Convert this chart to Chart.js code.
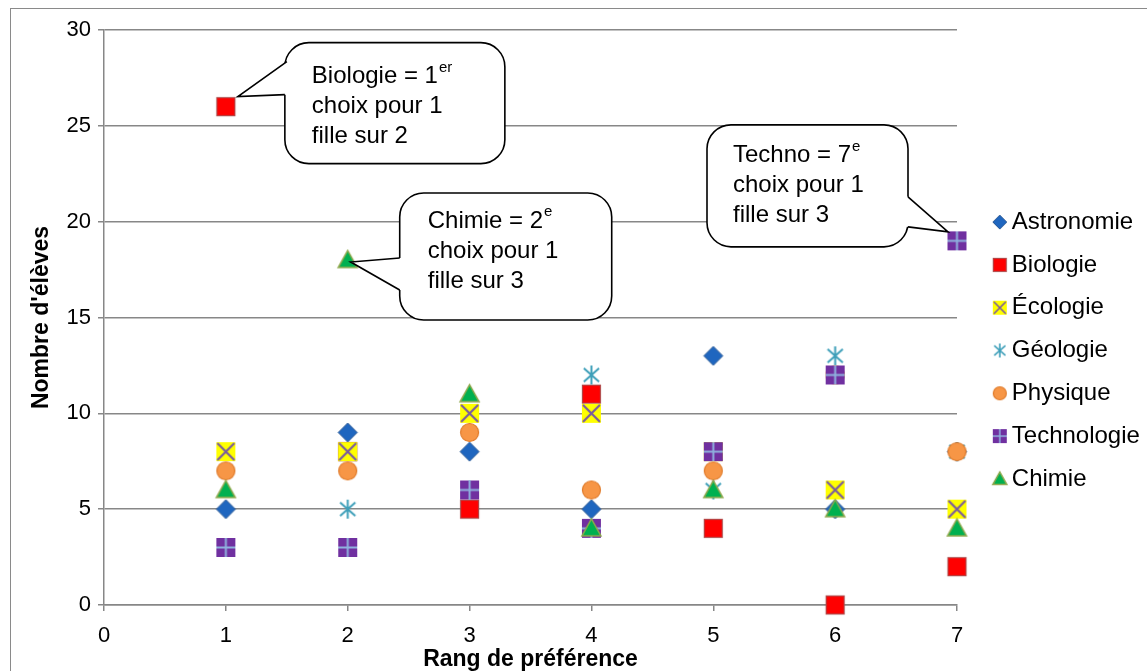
<!DOCTYPE html>
<html lang="fr">
<head>
<meta charset="utf-8">
<title>Rang de préférence des filles</title>
<script src="https://cdn.jsdelivr.net/npm/chart.js@4.4.0/dist/chart.umd.min.js"></script>
<style>
    html, body { margin: 0; padding: 0; background: #fff; overflow: hidden; }
    #cadre { position: absolute; left: 10px; top: 8px; width: 1200px; height: 700px; border: 1px solid #8a8a8a; }
    #zone { position: absolute; left: 0; top: 0; width: 1147px; height: 671px; }
</style>
</head>
<body>
<div id="cadre"></div>
<div id="zone"><canvas id="graphique"></canvas></div>
<script>
// Données (nombre d'élèves par rang de préférence)
const rangs = [1, 2, 3, 4, 5, 6, 7];
const astronomie = [5, 9, 8, 5, 13, 5, 8];
const biologie = [26, 8, 5, 11, 4, 0, 2];
const ecologie = [8, 8, 10, 10, 8, 6, 5];
const geologie = [3, 5, 6, 12, 6, 13, 8];
const physique = [7, 7, 9, 6, 7, 12, 8];
const technologie = [3, 3, 6, 4, 8, 12, 19];
const chimie = [6, 18, 11, 4, 6, 5, 4];
const matieres = ['Astronomie', 'Biologie', 'Écologie', 'Géologie', 'Physique', 'Technologie', 'Chimie'];
const formes = ['losange', 'carre', 'croix', 'etoile', 'rond', 'plus', 'triangle'];

const police = "'Liberation Sans', Arial, Helvetica, sans-serif";

// Bulles de commentaire, accrochées à un point (matière, rang)
const bulles = [
    { serie: 1, rang: 1, lignes: ['Biologie = 1', 'choix pour 1', 'fille sur 2'], exposant: 'er',
      boite: [59, -64, 220, 121], base: [[61, -45], [59, -12]], pointe: [12, -10], dedans: 4, texte: [27, 34] },
    { serie: 6, rang: 2, lignes: ['Chimie = 2', 'choix pour 1', 'fille sur 3'], exposant: 'e',
      boite: [52, -67, 212, 127], base: [[52, -2], [52, 30]], pointe: [3, 2], dedans: 4, texte: [28, 28] },
    { serie: 5, rang: 7, lignes: ['Techno = 7', 'choix pour 1', 'fille sur 3'], exposant: 'e',
      boite: [-250, -116, 201, 122], base: [[-49, -44], [-49, -14]], pointe: [-9, -9], dedans: -4, texte: [26, 31] }
];

// Dessin des marqueurs façon Excel
function marqueur(forme, taille, decalage) {
    const d = decalage || 0;
    const c = document.createElement('canvas');
    const cote = taille + 4;
    c.width = cote + 2 * Math.abs(d);
    c.height = cote;
    const g = c.getContext('2d');
    const cx = c.width / 2 + d, cy = c.height / 2, r = taille / 2;
    g.lineJoin = 'miter';
    switch (forme) {
        case 'losange':
            g.beginPath();
            g.moveTo(cx, cy - r); g.lineTo(cx + r, cy); g.lineTo(cx, cy + r); g.lineTo(cx - r, cy);
            g.closePath();
            g.fillStyle = '#1F66BF'; g.fill();
            g.strokeStyle = '#2C5A95'; g.lineWidth = 1; g.stroke();
            break;
        case 'carre':
            g.fillStyle = '#FF0000'; g.fillRect(cx - r, cy - r, taille, taille);
            g.strokeStyle = '#B04848'; g.lineWidth = 1.2; g.strokeRect(cx - r + 0.5, cy - r + 0.5, taille - 1, taille - 1);
            break;
        case 'croix':
            g.fillStyle = '#FFFF00'; g.fillRect(cx - r, cy - r, taille, taille);
            g.strokeStyle = '#7A5C9E'; g.lineWidth = taille > 15 ? 2.2 : 1.6;
            g.beginPath();
            g.moveTo(cx - r + 1, cy - r + 1); g.lineTo(cx + r - 1, cy + r - 1);
            g.moveTo(cx + r - 1, cy - r + 1); g.lineTo(cx - r + 1, cy + r - 1);
            g.stroke();
            break;
        case 'etoile':
            g.strokeStyle = '#3E9FB9'; g.lineWidth = taille > 15 ? 2 : 1.6;
            g.beginPath();
            g.moveTo(cx, cy - r); g.lineTo(cx, cy + r);
            g.moveTo(cx - r * 0.8, cy - r * 0.7); g.lineTo(cx + r * 0.8, cy + r * 0.7);
            g.moveTo(cx + r * 0.8, cy - r * 0.7); g.lineTo(cx - r * 0.8, cy + r * 0.7);
            g.stroke();
            break;
        case 'rond':
            g.beginPath(); g.arc(cx, cy, r - 0.5, 0, Math.PI * 2);
            g.fillStyle = '#F79646'; g.fill();
            g.strokeStyle = '#E07B2A'; g.lineWidth = 1.2; g.stroke();
            break;
        case 'plus':
            g.fillStyle = '#7030A0'; g.fillRect(cx - r, cy - r, taille, taille);
            g.strokeStyle = '#8FB1DE'; g.lineWidth = taille > 15 ? 2 : 1.5;
            g.beginPath();
            g.moveTo(cx, cy - r); g.lineTo(cx, cy + r);
            g.moveTo(cx - r, cy); g.lineTo(cx + r, cy);
            g.stroke();
            break;
        case 'triangle':
            g.beginPath();
            g.moveTo(cx, cy - r); g.lineTo(cx + r, cy + r * 0.8); g.lineTo(cx - r, cy + r * 0.8);
            g.closePath();
            g.fillStyle = '#00B050'; g.fill();
            g.strokeStyle = '#8EA84C'; g.lineWidth = 1.5; g.stroke();
            break;
    }
    return c;
}

const valeurs = [astronomie, biologie, ecologie, geologie, physique, technologie, chimie];
const imagesPoints = formes.map(f => marqueur(f, 19));
const imagesLegende = formes.map(f => marqueur(f, 14, 12));

const jeux = matieres.map((nom, i) => ({
    label: nom,
    data: rangs.map((r, k) => ({ x: r, y: valeurs[i][k] })),
    pointStyle: imagesPoints[i],
    pointRadius: 10,
    pointHoverRadius: 10,
    showLine: false,
    clip: false,
    order: matieres.length - 1 - i
}));

// Plugin qui dessine les bulles de commentaire
const pluginBulles = {
    id: 'bulles',
    afterDatasetsDraw(chart) {
        const { ctx, scales: { x, y } } = chart;
        bulles.forEach(b => {
            const px = x.getPixelForValue(b.rang);
            const py = y.getPixelForValue(valeurs[b.serie][b.rang - 1]);
            const [bx, by, bw, bh] = [px + b.boite[0], py + b.boite[1], b.boite[2], b.boite[3]];
            const rr = 24;
            ctx.save();
            ctx.lineWidth = 1.6;
            ctx.strokeStyle = '#000';
            ctx.fillStyle = '#fff';
            ctx.beginPath();
            ctx.moveTo(bx + rr, by);
            ctx.arcTo(bx + bw, by, bx + bw, by + bh, rr);
            ctx.arcTo(bx + bw, by + bh, bx, by + bh, rr);
            ctx.arcTo(bx, by + bh, bx, by, rr);
            ctx.arcTo(bx, by, bx + bw, by, rr);
            ctx.closePath();
            ctx.fill();
            ctx.stroke();

            const b1 = [px + b.base[0][0], py + b.base[0][1]];
            const b2 = [px + b.base[1][0], py + b.base[1][1]];
            const tp = [px + b.pointe[0], py + b.pointe[1]];
            ctx.beginPath();
            ctx.moveTo(b1[0], b1[1]);
            ctx.lineTo(tp[0], tp[1]);
            ctx.lineTo(b2[0], b2[1]);
            ctx.lineTo(b2[0] + b.dedans, b2[1]);
            ctx.lineTo(b1[0] + b.dedans, b1[1]);
            ctx.closePath();
            ctx.fill();
            ctx.beginPath();
            ctx.moveTo(b1[0], b1[1]);
            ctx.lineTo(tp[0], tp[1]);
            ctx.lineTo(b2[0], b2[1]);
            ctx.stroke();

            ctx.fillStyle = '#000';
            ctx.textBaseline = 'middle';
            ctx.textAlign = 'left';
            b.lignes.forEach((ligne, k) => {
                const tx = bx + b.texte[0];
                const ty = by + b.texte[1] + k * 30;
                ctx.font = '24px ' + police;
                ctx.fillText(ligne, tx, ty);
                if (k === 0) {
                    const w = ctx.measureText(ligne).width;
                    ctx.font = '15px ' + police;
                    ctx.fillText(b.exposant, tx + w + 1, ty - 9);
                }
            });
            ctx.restore();
        });
    }
};

const axeCouleur = '#878787';

new Chart(document.getElementById('graphique'), {
    type: 'scatter',
    data: { datasets: jeux },
    options: {
        responsive: true,
        maintainAspectRatio: false,
        animation: false,
        layout: { padding: { top: 30, left: 20, right: 0, bottom: 0 } },
        plugins: {
            tooltip: { enabled: false },
            legend: {
                position: 'right',
                maxWidth: 190,
                labels: {
                    usePointStyle: true,
                    pointStyleWidth: 24,
                    padding: 18.8,
                    color: '#000',
                    font: { size: 24, family: police },
                    sort: (a, b) => a.datasetIndex - b.datasetIndex,
                    generateLabels(chart) {
                        const items = Chart.defaults.plugins.legend.labels.generateLabels(chart);
                        items.forEach(it => { it.pointStyle = imagesLegende[it.datasetIndex]; });
                        return items;
                    }
                }
            }
        },
        scales: {
            x: {
                type: 'linear',
                min: 0,
                max: 7,
                ticks: { stepSize: 1, color: '#000', font: { size: 22, family: police }, padding: 12 },
                grid: { drawOnChartArea: false, drawTicks: true, tickLength: 6, color: axeCouleur, lineWidth: 1.5 },
                border: { color: axeCouleur, width: 1.5 },
                title: { display: true, text: 'Rang de préférence', color: '#000', font: { size: 23, weight: 'bold', family: police, lineHeight: 1.0 }, padding: 0 },
                afterFit: s => { s.height = 66; }
            },
            y: {
                min: 0,
                max: 30,
                ticks: { stepSize: 5, color: '#000', font: { size: 22, family: police }, padding: 7 },
                grid: { color: axeCouleur, lineWidth: 1.5, tickLength: 6 },
                border: { color: axeCouleur, width: 1.5 },
                title: { display: true, text: "Nombre d'élèves", color: '#000', font: { size: 23, weight: 'bold', family: police }, padding: { top: 8, bottom: 0 } },
                afterFit: s => { s.width = 84; }
            }
        }
    },
    plugins: [pluginBulles]
});
</script>
</body>
</html>
